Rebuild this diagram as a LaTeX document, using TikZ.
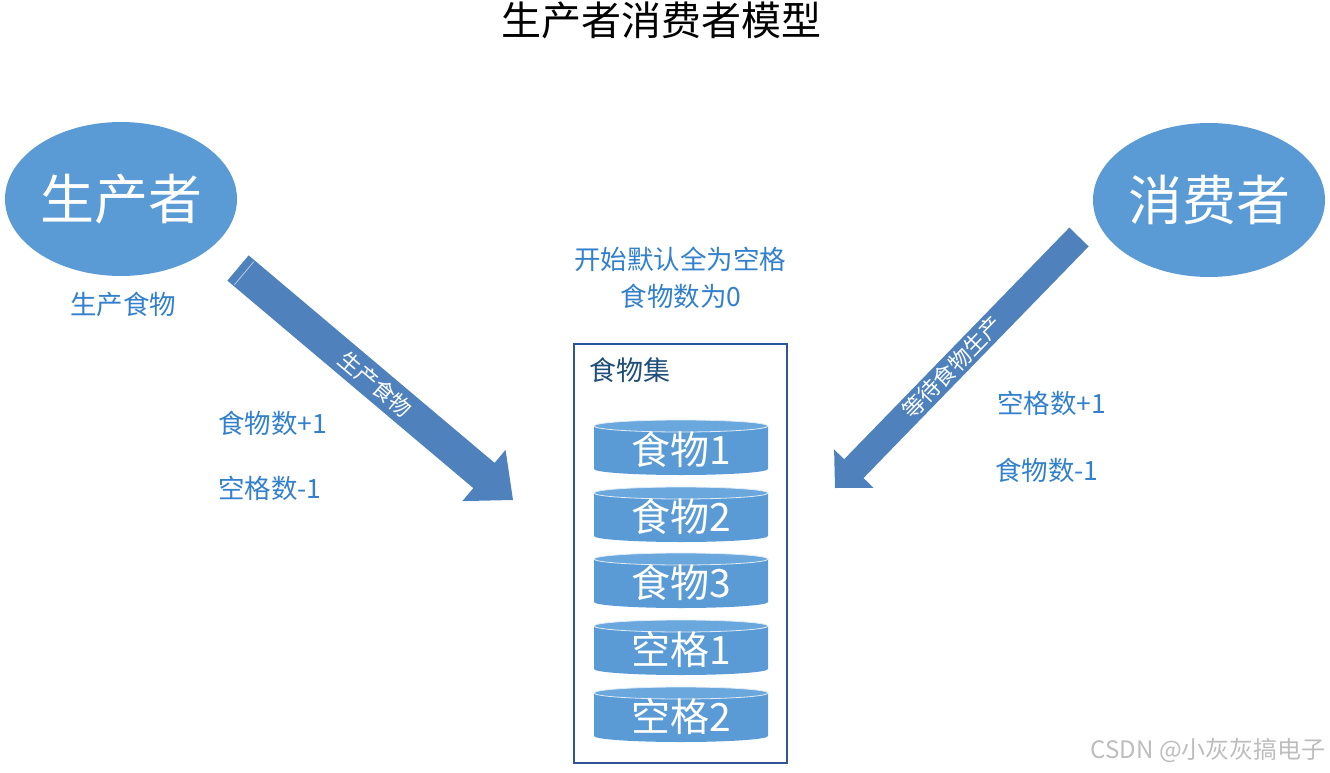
\documentclass[tikz,border=0pt]{standalone}
\usepackage{fontspec}
\setmainfont{Noto Sans CJK SC}
\usetikzlibrary{calc,shapes.geometric}
\definecolor{ellblue}{HTML}{5B9BD5}
\definecolor{cyltop}{HTML}{6AA7DD}
\definecolor{arrblue}{HTML}{4F81BD}
\definecolor{txtblue}{HTML}{3380CC}
\definecolor{boxblue}{HTML}{2F5597}
\definecolor{setblue}{HTML}{1F4E79}
\definecolor{wmgray}{HTML}{BDBDBD}
\newcommand{\fsz}[1]{\fontsize{#1}{#1}\selectfont}
\begin{document}
\begin{tikzpicture}[x=1pt,y=-1pt,
  actor/.style={ellipse, fill=ellblue, inner sep=0pt, minimum width=232pt, minimum height=154pt, text=white, font=\fsz{54}},
  note/.style={inner sep=0pt, text=txtblue, font=\fsz{26.5}},
  arrowtext/.style={inner sep=0pt, text=white, font=\fsz{22}},
  cyltext/.style={inner sep=0pt, text=white, font=\fsz{39}},
  blockarrow/.style={fill=arrblue}
]
\useasboundingbox (0,0) rectangle (1330,773);

% title
\node[inner sep=0pt, font=\fsz{40}] (title) at (661,20) {生产者消费者模型};

% actors
\node[actor] (prod) at (121,199) {生产者};
\node[actor] (cons) at (1209,200) {消费者};

\node[note] (prodlab) at (123,304) {生产食物};

% top notes
\node[note] (init1) at (680,259) {开始默认全为空格};
\node[note] (init2) at (681,296) {食物数为0};

\node[note, anchor=west] (pl1) at (218,423) {食物数+1};
\node[note, anchor=west] (pl2) at (218,488) {空格数-1};
\node[note, anchor=west] (cl1) at (997,403) {空格数+1};
\node[note, anchor=west] (cl2) at (995,470) {食物数-1};

% food set box
\node[draw=boxblue, line width=1.2pt, minimum width=213pt, minimum height=419pt, inner sep=0pt] (foodset) at (680.5,553.5) {};
\node[inner sep=0pt, text=setblue, font=\fsz{27}, anchor=west] (setlab) at (589,370) {食物集};

% cylinders
\foreach \t/\lab/\nm in {420/食物1/c1, 487/食物2/c2, 553/食物3/c3, 620/空格1/c4, 687/空格2/c5}{
  \fill[ellblue] (594,\t+6) -- (594,\t+49) arc[start angle=180, end angle=360, x radius=87pt, y radius=6pt] -- (768,\t+6) -- cycle;
  \filldraw[fill=cyltop, draw=white!80!ellblue, line width=0.8pt] (681,\t+6) ellipse[x radius=87pt, y radius=6pt];
  \node[cyltext] (\nm) at (681,\t+30) {\lab};
}

% arrow 1 (producer -> food set)
\coordinate (a1t) at (238,268);
\coordinate (a1p) at (513,500);
\coordinate (a1h) at ($(a1p)!38pt!(a1t)$);
\fill[blockarrow] ($(a1t)!16.5pt!90:(a1p)$) -- ($(a1h)!16.5pt!90:(a1p)$) -- ($(a1h)!33.5pt!90:(a1p)$) -- (a1p)
  -- ($(a1h)!33.5pt!-90:(a1p)$) -- ($(a1h)!16.5pt!-90:(a1p)$) -- ($(a1t)!16.5pt!-90:(a1p)$) -- cycle;
\coordinate (a1s) at ($(a1t)!8pt!(a1p)$);
\draw[white, opacity=0.6, line width=0.8pt] ($(a1s)!15pt!90:(a1p)$) -- ($(a1s)!15pt!-90:(a1p)$);
\node[arrowtext, rotate=-40.15] (a1lab) at ($(a1t)!0.5!(a1p)$) {生产食物};

% arrow 2 (consumer -> food set)
\coordinate (a2t) at (1079,237);
\coordinate (a2p) at (835,488);
\coordinate (a2h) at ($(a2p)!27pt!(a2t)$);
\fill[blockarrow] ($(a2t)!13.5pt!90:(a2p)$) -- ($(a2h)!13.5pt!90:(a2p)$) -- ($(a2h)!27.5pt!90:(a2p)$) -- (a2p)
  -- ($(a2h)!27.5pt!-90:(a2p)$) -- ($(a2h)!13.5pt!-90:(a2p)$) -- ($(a2t)!13.5pt!-90:(a2p)$) -- cycle;
\node[arrowtext, rotate=45.8] (a2lab) at ($(a2t)!0.52!(a2p)$) {等待食物生产};

% watermark
\node[inner sep=0pt, text=wmgray, font=\fsz{24}, anchor=east] (wm) at (1326,750) {CSDN @小灰灰搞电子};
\end{tikzpicture}
\end{document}
